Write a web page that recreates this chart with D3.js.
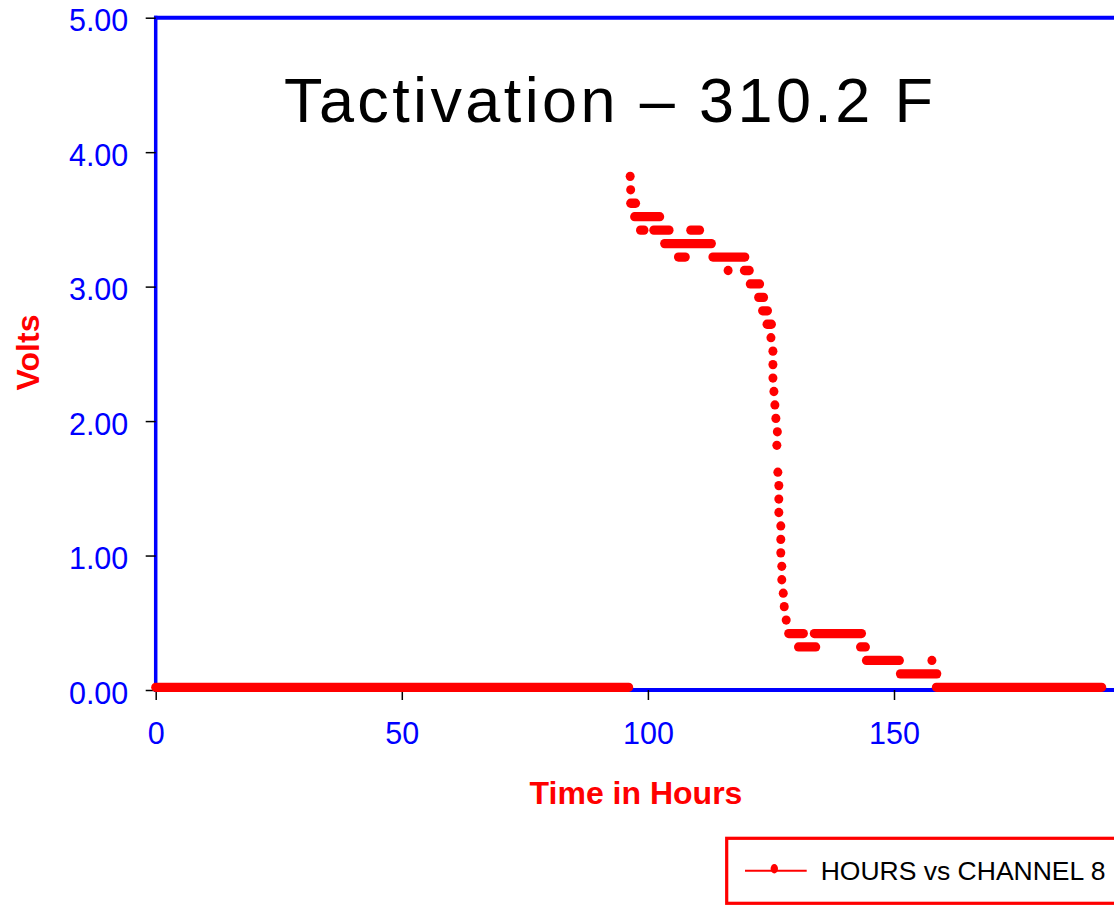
<!DOCTYPE html>
<html>
<head>
<meta charset="utf-8">
<script src="https://cdn.jsdelivr.net/npm/d3@7"></script>
<style>
  html, body { margin: 0; padding: 0; background: #fff; overflow: hidden; }
  svg { display: block; }
  text { font-family: "Liberation Sans", Arial, Helvetica, sans-serif; }
</style>
</head>
<body>
<svg id="chart" width="1114" height="906"></svg>
<script>
// ---- Data (runs of closely spaced samples: start hour, end hour, volts) ----
const runStartHours = [0.0, 96.4, 96.5, 96.5, 97.3, 98.5, 101.2, 108.7, 103.4, 106.2, 113.2,
  116.3, 119.6, 120.8, 122.5, 123.3, 124.2, 125.0, 125.4, 125.4, 125.4, 125.6, 125.8, 126.0,
  126.3, 126.2, 126.4, 126.6, 126.6, 126.6, 127.0, 127.0, 127.0, 127.2, 127.2, 127.5, 127.7,
  128.1, 128.6, 133.8, 130.6, 143.2, 144.4, 157.7, 151.3, 158.6];
const runEndHours = [96.1, 96.4, 96.5, 97.5, 102.4, 99.2, 104.3, 110.5, 112.9, 107.6, 119.7,
  116.3, 120.6, 122.7, 123.5, 124.3, 125.1, 125.0, 125.4, 125.4, 125.4, 125.6, 125.8, 126.0,
  126.3, 126.2, 126.4, 126.6, 126.6, 126.6, 127.0, 127.0, 127.0, 127.2, 127.2, 127.5, 127.7,
  128.1, 131.6, 143.4, 134.1, 144.2, 151.1, 157.7, 158.7, 192.2];
const runVolts = [0.02, 3.82, 3.72, 3.62, 3.52, 3.42, 3.42, 3.42, 3.32, 3.22, 3.22,
  3.12, 3.12, 3.02, 2.92, 2.82, 2.72, 2.62, 2.52, 2.42, 2.32, 2.22, 2.12, 2.02,
  1.92, 1.82, 1.62, 1.52, 1.42, 1.32, 1.22, 1.12, 1.02, 0.92, 0.82, 0.72, 0.62,
  0.52, 0.42, 0.42, 0.32, 0.32, 0.22, 0.22, 0.12, 0.02];

const xTicks = [0, 50, 100, 150];
const yTicks = [0, 1, 2, 3, 4, 5];
const xDomain = [0, 200];
const yDomain = [0, 5];
const titleText = "Tactivation \u2013 310.2 F";
const xTitle = "Time in Hours";
const yTitle = "Volts";
const legendLabel = "HOURS vs CHANNEL 8";

(function draw() {
  const svg = d3.select("#chart");
  const pLeft = 155.7, pRight = 1140.1, pTop = 17.7, pBottom = 690;
  const x = d3.scaleLinear().domain(xDomain).range([pLeft, pRight]);
  const y = d3.scaleLinear().domain(yDomain).range([pBottom, pTop]);
  const blue = "#0000ff", red = "#ff0000";

  // Axis frame lines (blue)
  svg.append("line").attr("x1", pLeft).attr("x2", pLeft).attr("y1", pTop - 2).attr("y2", pBottom + 2)
    .attr("stroke", blue).attr("stroke-width", 3.5);
  svg.append("line").attr("x1", pLeft - 1.5).attr("x2", pRight).attr("y1", pTop).attr("y2", pTop)
    .attr("stroke", blue).attr("stroke-width", 4);
  svg.append("line").attr("x1", pLeft - 1.5).attr("x2", pRight).attr("y1", pBottom).attr("y2", pBottom)
    .attr("stroke", blue).attr("stroke-width", 4);

  // Y axis ticks/labels
  const yAxis = d3.axisLeft(y).tickValues(yTicks).tickFormat(d3.format(".2f"))
    .tickSize(10).tickSizeOuter(0).tickPadding(17.4);
  const gy = svg.append("g").attr("transform", `translate(${pLeft},0)`).call(yAxis);
  gy.select(".domain").remove();
  gy.selectAll(".tick line").attr("stroke", "#000").attr("stroke-width", 1.5);
  gy.selectAll(".tick text").attr("fill", blue).attr("font-size", 30.5)
    .attr("font-family", "'Liberation Sans', Arial, sans-serif").attr("dy", "0.43em");

  // X axis ticks/labels
  const xAxis = d3.axisBottom(x).tickValues(xTicks).tickFormat(d3.format("d"))
    .tickSize(10).tickSizeOuter(0).tickPadding(22.7);
  const gx = svg.append("g").attr("transform", `translate(0,${pBottom})`).call(xAxis);
  gx.select(".domain").remove();
  gx.selectAll(".tick line").attr("stroke", "#000").attr("stroke-width", 1.5);
  gx.selectAll(".tick text").attr("fill", blue).attr("font-size", 30.5)
    .attr("font-family", "'Liberation Sans', Arial, sans-serif");

  // Data runs
  const runs = runStartHours.map((s, i) => ({ s, e: runEndHours[i], v: runVolts[i] }));
  const rx = 4.5, ry = 4.65;
  svg.append("g").selectAll("rect").data(runs).join("rect")
    .attr("x", d => x(d.s) - rx)
    .attr("width", d => x(d.e) - x(d.s) + 2 * rx)
    .attr("y", d => y(d.v) - ry)
    .attr("height", 2 * ry)
    .attr("rx", rx).attr("ry", ry)
    .attr("fill", red);

  // Title
  const title = svg.append("text").attr("x", 608.5).attr("y", 121.7)
    .attr("text-anchor", "middle").attr("font-size", 63).attr("fill", "#000").text(titleText);
  const natural = title.node().getComputedTextLength();
  const ls = (649 - natural) / (titleText.length - 1);
  title.attr("letter-spacing", ls + "px").attr("x", 608.5 + ls / 2);

  // Axis titles
  svg.append("text").attr("x", 636).attr("y", 804).attr("text-anchor", "middle")
    .attr("font-size", 32).attr("font-weight", "bold").attr("fill", red).text(xTitle);
  svg.append("text").attr("transform", "translate(38.5,352.5) rotate(-90)")
    .attr("text-anchor", "middle").attr("font-size", 32).attr("font-weight", "bold")
    .attr("fill", red).text(yTitle);

  // Legend
  svg.append("rect").attr("x", 726.7).attr("y", 838.3).attr("width", 500).attr("height", 65)
    .attr("fill", "none").attr("stroke", red).attr("stroke-width", 3.2);
  svg.append("line").attr("x1", 745).attr("x2", 806.7).attr("y1", 870.7).attr("y2", 870.7)
    .attr("stroke", red).attr("stroke-width", 2);
  svg.append("ellipse").attr("cx", 774.3).attr("cy", 868.7).attr("rx", 3.7).attr("ry", 4.7)
    .attr("fill", red);
  svg.append("text").attr("x", 820.7).attr("y", 880).attr("font-size", 26.5)
    .attr("fill", "#000").text(legendLabel);
})();
</script>
</body>
</html>
